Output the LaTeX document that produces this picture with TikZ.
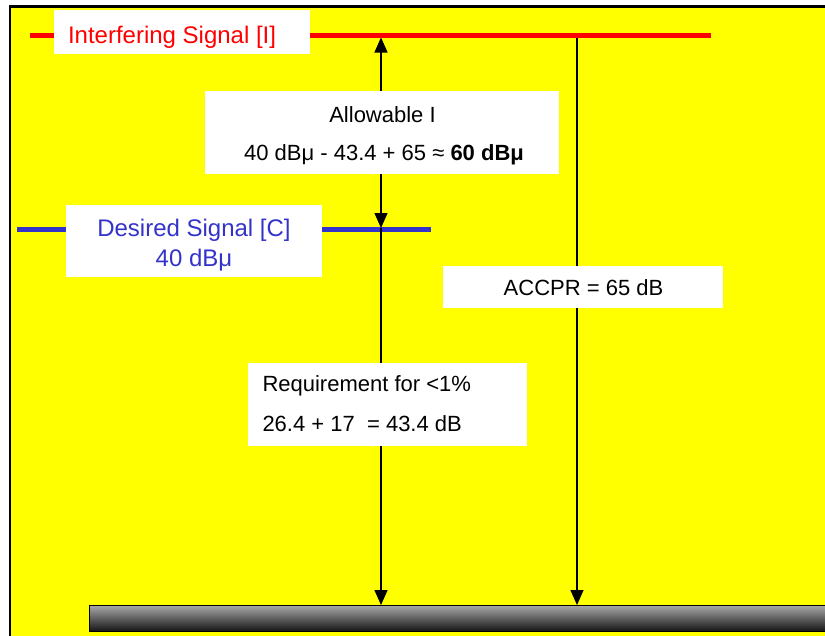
\documentclass[tikz,border=0pt]{standalone}
\usepackage{fontspec}
\setmainfont{Liberation Sans}
\usetikzlibrary{arrows.meta}
\definecolor{bgyellow}{RGB}{255,255,0}
\definecolor{sigred}{RGB}{255,0,0}
\definecolor{sigblue}{RGB}{51,51,204}
\definecolor{barlight}{RGB}{170,170,170}
\definecolor{bardark}{RGB}{22,22,22}
\begin{document}
\begin{tikzpicture}[x=1pt,y=-1pt,
  wbox/.style={fill=white,draw=none,inner sep=0pt,outer sep=0pt,anchor=north west},
  lbl/.style={inner sep=0pt,outer sep=0pt,anchor=base},
  lblw/.style={inner sep=0pt,outer sep=0pt,anchor=base west},
  big/.style={font=\fontsize{24}{28}\selectfont},
  norm/.style={font=\fontsize{22}{26}\selectfont},
  sigline/.style={line width=5pt},
  tipstyle/.tip={Triangle[width=13pt,length=15pt]},
  arr/.style={line width=1.3pt,-tipstyle},
  dblarr/.style={line width=1.3pt,tipstyle-tipstyle},
  plain/.style={line width=1.3pt},
  groundbar/.style={draw=black,line width=1pt,top color=barlight,bottom color=bardark,inner sep=0pt,outer sep=0pt,anchor=north west}
]
\useasboundingbox (0,0) rectangle (825,635);
% background
\fill[bgyellow] (10,6.5) rectangle (827,637);
\draw[line width=2.5pt] (10,637) -- (10,6.5) -- (827,6.5);

% coordinates
\coordinate (redL) at (30,35);
\coordinate (redR) at (711,35);
\coordinate (blueL) at (17,229.5);
\coordinate (blueR) at (431,229.5);
\coordinate (a1top) at (381,37.5);
\coordinate (a1mid) at (381,228);
\coordinate (a2top) at (577,37.5);

% ground bar
\node[groundbar,minimum width=740pt,minimum height=26pt] (ground) at (89,605) {};
\coordinate (a1bot) at (381,605);
\coordinate (a2bot) at (577,605);

% signal lines
\draw[sigline,sigred] (redL) -- (redR);
\draw[sigline,sigblue] (blueL) -- (blueR);

% arrows
\draw[dblarr] (a1top) -- (a1mid);
\draw[arr] (a1mid) -- (a1bot);
\draw[arr] (a2top) -- (a2bot);

% white boxes
\node[wbox,minimum width=256pt,minimum height=44pt] (ibox) at (54,10) {};
\node[wbox,minimum width=354pt,minimum height=82.5pt] (abox) at (205,91) {};
\node[wbox,minimum width=255.5pt,minimum height=72pt] (dbox) at (66,205) {};
\node[wbox,minimum width=279.5pt,minimum height=41.5pt] (cbox) at (443.3,266) {};
\node[wbox,minimum width=279pt,minimum height=82.5pt] (rbox) at (248.3,363.3) {};

% texts
\node[lblw,big,text=sigred] (itxt) at (68,43) {Interfering Signal [I]};
\node[lbl,norm] (atxt1) at (382.5,122) {Allowable I};
\node[lbl,norm] (atxt2) at (384,160) {40 dBμ - 43.4 + 65 ≈ \textbf{60 dBμ}};
\node[lbl,big,text=sigblue] (dtxt1) at (194,236.7) {Desired Signal [C]};
\node[lbl,big,text=sigblue] (dtxt2) at (194,266) {40 dBμ};
\node[lbl,norm] (ctxt) at (583.5,295.3) {ACCPR = 65 dB};
\node[lblw,norm] (rtxt1) at (262.5,391.7) {Requirement for <1\%};
\node[lblw,norm] (rtxt2) at (262.5,431.7) {26.4 + 17 \ = 43.4 dB};
\end{tikzpicture}
\end{document}
